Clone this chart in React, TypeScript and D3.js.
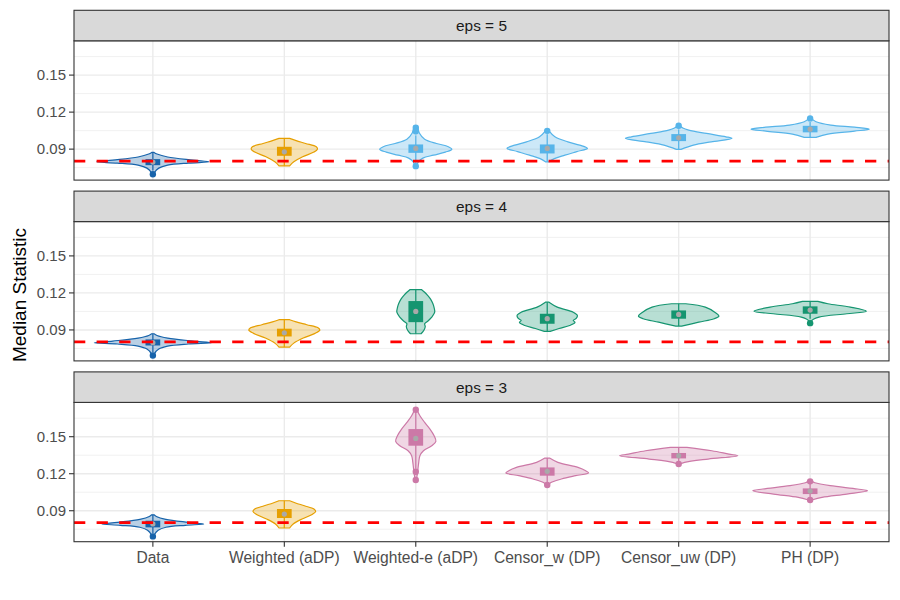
import React from "react";
import * as d3 from "d3";

// ---------- data ----------
const categories = ["Data", "Weighted (aDP)", "Weighted-e (aDP)", "Censor_w (DP)", "Censor_uw (DP)", "PH (DP)"];
const facetLabels = ["eps = 5", "eps = 4", "eps = 3"];
const referenceValue = 0.0803;
const yTicks = [0.09, 0.12, 0.15];
const yMinor = [0.075, 0.105, 0.135, 0.165];
const yDomain = [0.0649, 0.1778];

// violin profiles: v = statistic value, d = relative density width
const eps5Violins = [
  { v: [0.0697, 0.0713, 0.0746, 0.077, 0.0787, 0.0797, 0.0811, 0.0836, 0.086, 0.0873], d: [0.02, 0.03, 0.1, 0.25, 0.6, 0.95, 0.68, 0.25, 0.07, 0.02] },
  { v: [0.0765, 0.0797, 0.0838, 0.0876, 0.09, 0.0919, 0.0946, 0.0969, 0.0987], d: [0.09, 0.16, 0.31, 0.5, 0.56, 0.54, 0.36, 0.2, 0.09] },
  { v: [0.076, 0.0795, 0.0827, 0.0851, 0.0876, 0.0898, 0.092, 0.0946, 0.0981, 0.103, 0.1087], d: [0.02, 0.04, 0.12, 0.3, 0.5, 0.61, 0.55, 0.35, 0.15, 0.06, 0.03] },
  { v: [0.0797, 0.0823, 0.0851, 0.088, 0.0906, 0.0932, 0.0959, 0.1, 0.1048], d: [0.03, 0.12, 0.3, 0.5, 0.68, 0.55, 0.35, 0.13, 0.03] },
  { v: [0.0898, 0.0932, 0.0959, 0.0987, 0.1, 0.1027, 0.1054, 0.1071, 0.1089], d: [0.04, 0.25, 0.55, 0.9, 0.8, 0.47, 0.17, 0.07, 0.02] },
  { v: [0.0995, 0.1022, 0.1046, 0.1062, 0.1078, 0.1095, 0.1122, 0.1149], d: [0.1, 0.3, 0.75, 1.0, 0.75, 0.35, 0.1, 0.02] },
];
const eps4Violins = [
  { v: [0.0693, 0.071, 0.0745, 0.0769, 0.0786, 0.0796, 0.081, 0.0834, 0.0855, 0.0869], d: [0.02, 0.03, 0.1, 0.25, 0.6, 0.99, 0.68, 0.25, 0.07, 0.02] },
  { v: [0.0761, 0.0793, 0.0834, 0.0872, 0.0898, 0.0917, 0.0942, 0.0965, 0.0983], d: [0.09, 0.16, 0.32, 0.52, 0.6, 0.57, 0.38, 0.2, 0.09] },
  { v: [0.0869, 0.09, 0.0928, 0.095, 0.097, 0.1004, 0.1044, 0.108, 0.1112, 0.115, 0.118, 0.1205, 0.1226], d: [0.09, 0.14, 0.16, 0.15, 0.2, 0.27, 0.32, 0.31, 0.29, 0.25, 0.2, 0.15, 0.1] },
  { v: [0.0888, 0.0912, 0.0936, 0.0961, 0.0977, 0.0993, 0.1018, 0.1044, 0.1085, 0.1125], d: [0.05, 0.2, 0.38, 0.47, 0.44, 0.49, 0.51, 0.44, 0.17, 0.03] },
  { v: [0.0931, 0.0963, 0.0991, 0.1012, 0.1044, 0.1085, 0.1112], d: [0.05, 0.34, 0.6, 0.68, 0.61, 0.45, 0.12] },
  { v: [0.0955, 0.0977, 0.1004, 0.1031, 0.1052, 0.1085, 0.1112, 0.1131], d: [0.02, 0.03, 0.15, 0.62, 0.95, 0.68, 0.3, 0.13] },
];
const eps3Violins = [
  { v: [0.0692, 0.0709, 0.0742, 0.0766, 0.0782, 0.0792, 0.0806, 0.083, 0.0853, 0.0867], d: [0.02, 0.03, 0.09, 0.22, 0.55, 0.86, 0.6, 0.22, 0.06, 0.02] },
  { v: [0.076, 0.0792, 0.0833, 0.087, 0.0894, 0.0914, 0.094, 0.0963, 0.0981], d: [0.09, 0.15, 0.3, 0.47, 0.53, 0.5, 0.34, 0.19, 0.09] },
  { v: [0.1149, 0.1211, 0.1292, 0.1346, 0.1386, 0.1427, 0.1462, 0.1508, 0.1562, 0.1616, 0.167, 0.1719], d: [0.01, 0.03, 0.05, 0.07, 0.13, 0.27, 0.34, 0.31, 0.24, 0.15, 0.07, 0.02] },
  { v: [0.1108, 0.1125, 0.1157, 0.1184, 0.1206, 0.1224, 0.1251, 0.1292, 0.1327], d: [0.02, 0.05, 0.24, 0.48, 0.7, 0.65, 0.52, 0.18, 0.04] },
  { v: [0.1279, 0.1292, 0.1319, 0.1346, 0.1359, 0.1386, 0.1413], d: [0.02, 0.1, 0.5, 1.0, 0.85, 0.56, 0.14] },
  { v: [0.0987, 0.1008, 0.1035, 0.1062, 0.1076, 0.1103, 0.1127, 0.1138], d: [0.03, 0.2, 0.62, 0.97, 0.8, 0.34, 0.08, 0.03] },
];

// box stats: [lower whisker, q1, median, q3, upper whisker]
const eps5Boxes = [
  [0.0727, 0.077, 0.0795, 0.0819, 0.0873],
  [0.0765, 0.0846, 0.0878, 0.0919, 0.0987],
  [0.079, 0.087, 0.0906, 0.0938, 0.101],
  [0.0797, 0.0865, 0.0906, 0.0938, 0.102],
  [0.0898, 0.0965, 0.0992, 0.1022, 0.106],
  [0.0995, 0.1036, 0.1062, 0.1089, 0.112],
];
const eps4Boxes = [
  [0.0722, 0.0774, 0.0797, 0.0823, 0.0869],
  [0.0761, 0.0847, 0.0877, 0.091, 0.0983],
  [0.0869, 0.0963, 0.105, 0.1134, 0.1226],
  [0.0888, 0.095, 0.0991, 0.1031, 0.1125],
  [0.0931, 0.0991, 0.1026, 0.1058, 0.1112],
  [0.099, 0.1031, 0.1061, 0.1091, 0.1131],
];
const eps3Boxes = [
  [0.072, 0.0765, 0.0793, 0.0819, 0.0867],
  [0.076, 0.0841, 0.0873, 0.0914, 0.0981],
  [0.124, 0.1427, 0.1486, 0.1562, 0.17],
  [0.113, 0.1184, 0.1219, 0.1251, 0.1327],
  [0.129, 0.1324, 0.1346, 0.1368, 0.1413],
  [0.1, 0.1035, 0.106, 0.1081, 0.112],
];

const eps5Outliers = [[0.0697], [], [0.1073, 0.1045, 0.0762], [0.1048], [0.1089], [0.1149]];
const eps4Outliers = [[0.0693], [], [], [], [], [0.0955]];
const eps3Outliers = [[0.0692], [], [0.1719, 0.1216, 0.1149], [0.1108], [0.1279], [0.1138, 0.0987]];

const eps5Colors = ["#1763AA", "#E69F00", "#56B4E9", "#56B4E9", "#56B4E9", "#56B4E9"];
const eps4Colors = ["#1763AA", "#E69F00", "#159570", "#159570", "#159570", "#159570"];
const eps3Colors = ["#1763AA", "#E69F00", "#CC79A7", "#CC79A7", "#CC79A7", "#CC79A7"];

const facets = [
  { label: facetLabels[0], violins: eps5Violins, boxes: eps5Boxes, outliers: eps5Outliers, colors: eps5Colors },
  { label: facetLabels[1], violins: eps4Violins, boxes: eps4Boxes, outliers: eps4Outliers, colors: eps4Colors },
  { label: facetLabels[2], violins: eps3Violins, boxes: eps3Boxes, outliers: eps3Outliers, colors: eps3Colors },
];

// ---------- layout ----------
const W = 900;
const H = 600;
const left = 74;
const right = 889;
const top0 = 10.3;
const stripH = 30.5;
const panelH = 139.3;
const gap = 11;
const FONT = "'Liberation Sans', Arial, Helvetica, sans-serif";

export default function App() {
  const x = d3.scalePoint<string>().domain(categories).range([left, right]).padding(0.6);
  const step = x.step();
  const maxHalf = 0.45 * step;
  const boxHalf = 0.056 * step;

  const panels = facets.map((f, i) => {
    const stripTop = top0 + i * (stripH + panelH + gap);
    const pTop = stripTop + stripH;
    const pBottom = pTop + panelH;
    const y = d3.scaleLinear().domain(yDomain).range([pBottom, pTop]);
    return { f, i, stripTop, pTop, pBottom, y };
  });

  const lastPanel = panels[panels.length - 1];

  return (
    <svg width={W} height={H} style={{ position: "absolute", left: 0, top: 0, background: "#fff" }} fontFamily={FONT}>
      <rect x={0} y={0} width={W} height={H} fill="#fff" />
      {panels.map(({ f, i, stripTop, pTop, pBottom, y }) => {
        const area = (k: number) =>
          d3
            .area<number>()
            .y((_, j) => y(f.violins[k].v[j]))
            .x0((_, j) => (x(categories[k]) as number) - f.violins[k].d[j] * maxHalf)
            .x1((_, j) => (x(categories[k]) as number) + f.violins[k].d[j] * maxHalf)
            .curve(d3.curveCatmullRom.alpha(0.5))(f.violins[k].v) as string;
        return (
          <g key={i}>
            <rect x={left} y={pTop} width={right - left} height={panelH} fill="#fff" />
            {yMinor.map((t) => (
              <line key={"mn" + t} x1={left} x2={right} y1={y(t)} y2={y(t)} stroke="#ebebeb" strokeWidth={0.7} />
            ))}
            {yTicks.map((t) => (
              <line key={"mj" + t} x1={left} x2={right} y1={y(t)} y2={y(t)} stroke="#ebebeb" strokeWidth={1.4} />
            ))}
            {categories.map((c) => (
              <line key={"vx" + c} x1={x(c)} x2={x(c)} y1={pTop} y2={pBottom} stroke="#ebebeb" strokeWidth={1.4} />
            ))}
            {categories.map((c, k) => (
              <path key={"vi" + c} d={area(k)} fill={f.colors[k]} fillOpacity={0.3} stroke={f.colors[k]} strokeWidth={1.2} />
            ))}
            {categories.map((c, k) => (
              <line
                key={"wh" + c}
                x1={x(c)}
                x2={x(c)}
                y1={y(f.boxes[k][0])}
                y2={y(f.boxes[k][4])}
                stroke={f.colors[k]}
                strokeWidth={1.2}
              />
            ))}
            {categories.map((c, k) => (
              <rect
                key={"bx" + c}
                x={(x(c) as number) - boxHalf}
                y={y(f.boxes[k][3])}
                width={boxHalf * 2}
                height={y(f.boxes[k][1]) - y(f.boxes[k][3])}
                fill={f.colors[k]}
              />
            ))}
            {categories.map((c, k) => (
              <circle key={"md" + c} cx={x(c)} cy={y(f.boxes[k][2])} r={2.6} fill="#a9a9a9" />
            ))}
            {categories.map((c, k) =>
              f.outliers[k].map((o, m) => (
                <circle key={"ol" + c + m} cx={x(c)} cy={y(o)} r={3.2} fill={f.colors[k]} />
              ))
            )}
            <line
              x1={left}
              x2={right}
              y1={y(referenceValue)}
              y2={y(referenceValue)}
              stroke="#ff0000"
              strokeWidth={2.8}
              strokeDasharray="11.3 11.3"
            />
            <rect x={left} y={pTop} width={right - left} height={panelH} fill="none" stroke="#333333" strokeWidth={1.1} />
            <rect x={left} y={stripTop} width={right - left} height={stripH} fill="#d9d9d9" stroke="#333333" strokeWidth={1.1} />
            <text x={(left + right) / 2} y={stripTop + stripH / 2 + 5.6} textAnchor="middle" fontSize={15.4} fill="#1a1a1a">
              {f.label}
            </text>
            {yTicks.map((t) => (
              <g key={"yt" + t}>
                <line x1={left - 5} x2={left} y1={y(t)} y2={y(t)} stroke="#333333" strokeWidth={1.1} />
                <text x={left - 8} y={y(t) + 5.3} textAnchor="end" fontSize={15} fill="#4d4d4d">
                  {t.toFixed(2)}
                </text>
              </g>
            ))}
          </g>
        );
      })}
      {categories.map((c) => (
        <g key={"xt" + c}>
          <line x1={x(c)} x2={x(c)} y1={lastPanel.pBottom} y2={lastPanel.pBottom + 5} stroke="#333333" strokeWidth={1.1} />
          <text x={x(c)} y={lastPanel.pBottom + 21.5} textAnchor="middle" fontSize={15.6} fill="#4d4d4d">
            {c}
          </text>
        </g>
      ))}
      <text
        transform={`translate(25.5, 295) rotate(-90)`}
        textAnchor="middle"
        fontSize={19}
        fill="#000"
      >
        Median Statistic
      </text>
    </svg>
  );
}
